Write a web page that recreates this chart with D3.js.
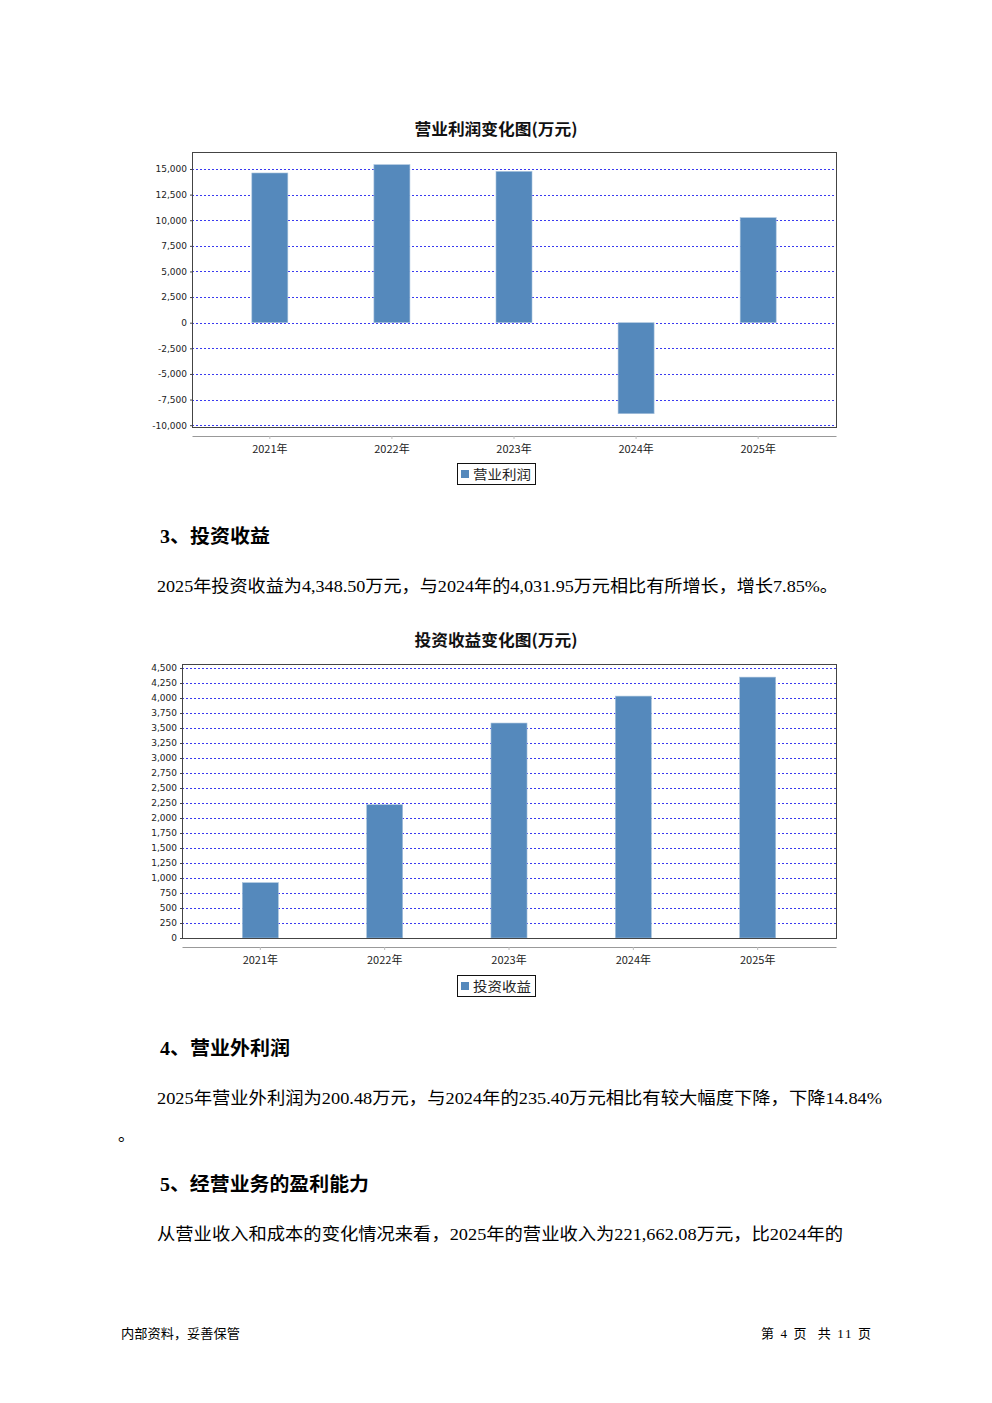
<!DOCTYPE html>
<html><head><meta charset="utf-8">
<script src="https://cdn.jsdelivr.net/npm/d3@7"></script>
<style>
body{margin:0;background:#fff;}
svg{display:block;}
</style></head>
<body>
<script>
const years = ["2021年","2022年","2023年","2024年","2025年"];
const opProfit = [14610, 15420, 14766, -8881, 10247];
const opProfitTicks = [15000,12500,10000,7500,5000,2500,0,-2500,-5000,-7500,-10000];
const invIncome = [922, 2222, 3583, 4031.95, 4348.50];
const invIncomeTicks = [0,250,500,750,1000,1250,1500,1750,2000,2250,2500,2750,3000,3250,3500,3750,4000,4250,4500];

const W = 992, H = 1403;
const svg = d3.select("body").append("svg").attr("width", W).attr("height", H);
svg.append("rect").attr("width", W).attr("height", H).attr("fill", "#fff");

const barColor = "#5589bc";
const gridColor = "#3a3af0";
const cjkSans = "'Noto Sans CJK SC','DejaVu Sans',sans-serif";
const bodyFont = "'Liberation Serif','Noto Sans CJK SC',serif";
const fmt = d3.format(",");

function drawChart(cfg) {
  const g = svg.append("g");
  g.append("text").attr("x", 496).attr("y", cfg.titleY)
    .attr("text-anchor", "middle").attr("font-family", cjkSans)
    .attr("font-weight", "bold").attr("font-size", 16).attr("fill", "#111")
    .attr("textLength", 163).attr("lengthAdjust", "spacingAndGlyphs")
    .text(cfg.title);

  const y = d3.scaleLinear().domain(cfg.domain).range([cfg.bottom, cfg.top]);
  const x = d3.scaleBand().domain(years).range([cfg.left, cfg.right])
    .paddingInner(cfg.pi).paddingOuter(cfg.po);

  // gridlines
  g.append("g").selectAll("line").data(cfg.ticks).join("line")
    .attr("x1", cfg.left).attr("x2", cfg.right)
    .attr("y1", d => Math.round(y(d)) + 0.5).attr("y2", d => Math.round(y(d)) + 0.5)
    .attr("stroke", gridColor).attr("stroke-width", 1)
    .attr("stroke-dasharray", "2,2");

  // bars
  const y0 = y(0);
  g.append("g").selectAll("rect").data(cfg.values).join("rect")
    .attr("x", (d, i) => x(years[i]))
    .attr("width", x.bandwidth())
    .attr("y", d => Math.min(y(d), y0))
    .attr("height", d => Math.abs(y(d) - y0))
    .attr("fill", barColor)
    .attr("stroke", "#a9c3dd").attr("stroke-width", 0.6);

  // frame
  g.append("rect").attr("x", cfg.left + 0.5).attr("y", cfg.top + 0.5)
    .attr("width", cfg.right - cfg.left).attr("height", cfg.bottom - cfg.top)
    .attr("fill", "none").attr("stroke", "#444").attr("stroke-width", 1);

  // y axis
  const yAxis = d3.axisLeft(y).tickValues(cfg.ticks).tickFormat(d => fmt(d).replace("\u2212", "-"))
    .tickSize(2).tickPadding(3);
  const ya = g.append("g").attr("transform", `translate(${cfg.left},0)`).call(yAxis);
  ya.select(".domain").remove();
  ya.selectAll("line").attr("stroke", "#444");
  ya.selectAll("text").attr("font-family", "'DejaVu Sans',sans-serif")
    .attr("font-size", 9).attr("fill", "#222");

  // category axis
  const xAxis = d3.axisBottom(x).tickSize(3).tickSizeOuter(0).tickPadding(6);
  const xa = g.append("g").attr("transform", `translate(0,${cfg.catAxisY})`).call(xAxis);
  xa.select(".domain").attr("stroke", "#999");
  xa.selectAll("line").attr("stroke", "#bbb");
  xa.selectAll("text").attr("font-family", cjkSans).attr("font-size", 11)
    .attr("fill", "#222");

  // legend
  const lg = g.append("g").attr("transform", `translate(457,${cfg.legendY})`);
  lg.append("rect").attr("x", 0.5).attr("y", 0.5).attr("width", 78).attr("height", 21)
    .attr("fill", "#fff").attr("stroke", "#111").attr("stroke-width", 1);
  lg.append("rect").attr("x", 4).attr("y", 7).attr("width", 8).attr("height", 8).attr("fill", barColor);
  lg.append("text").attr("x", 16).attr("y", 16).attr("font-family", cjkSans)
    .attr("font-size", 13).attr("fill", "#222")
    .attr("textLength", 58).attr("lengthAdjust", "spacingAndGlyphs").text(cfg.legend);
}

drawChart({
  title: "营业利润变化图(万元)", titleY: 135,
  values: opProfit, ticks: opProfitTicks,
  domain: [-10178, 16658], top: 152, bottom: 427, left: 192, right: 836,
  pi: 0.705, po: 0.49, catAxisY: 436, legendY: 463, legend: "营业利润"
});

drawChart({
  title: "投资收益变化图(万元)", titleY: 646,
  values: invIncome, ticks: invIncomeTicks,
  domain: [0, 4567], top: 664, bottom: 938, left: 182, right: 836,
  pi: 0.71, po: 0.485, catAxisY: 947, legendY: 975, legend: "投资收益"
});

// text blocks
function heading(t, x, yy, len) {
  svg.append("text").attr("x", x).attr("y", yy).attr("font-family", "'Liberation Serif','Noto Sans CJK SC',serif")
    .attr("font-weight", "bold").attr("font-size", 19).attr("fill", "#000")
    .attr("textLength", len).attr("lengthAdjust", "spacingAndGlyphs").text(t);
}
function body(t, x, yy, len) {
  const el = svg.append("text").attr("x", x).attr("y", yy).attr("font-family", bodyFont)
    .attr("font-size", 17).attr("fill", "#000").text(t);
  if (len) el.attr("textLength", len).attr("lengthAdjust", "spacingAndGlyphs");
}
heading("3、投资收益", 160, 543, 110);
body("2025年投资收益为4,348.50万元，与2024年的4,031.95万元相比有所增长，增长7.85%。", 157, 592, 681);
heading("4、营业外利润", 160, 1055, 130);
body("2025年营业外利润为200.48万元，与2024年的235.40万元相比有较大幅度下降，下降14.84%", 157, 1104, 725);
body("。", 118, 1141);
heading("5、经营业务的盈利能力", 160, 1191, 209);
body("从营业收入和成本的变化情况来看，2025年的营业收入为221,662.08万元，比2024年的", 157, 1240, 686);

// footer
svg.append("text").attr("x", 121).attr("y", 1338).attr("font-family", bodyFont)
  .attr("font-size", 13).attr("fill", "#000")
  .attr("textLength", 119).attr("lengthAdjust", "spacingAndGlyphs").text("内部资料，妥善保管");
svg.append("text").attr("x", 761).attr("y", 1338)
  .attr("font-family", bodyFont).attr("font-size", 13).attr("fill", "#000")
  .attr("xml:space", "preserve").attr("textLength", 110).attr("lengthAdjust", "spacing")
  .text("第 4 页  共 11 页");
</script>
</body></html>
